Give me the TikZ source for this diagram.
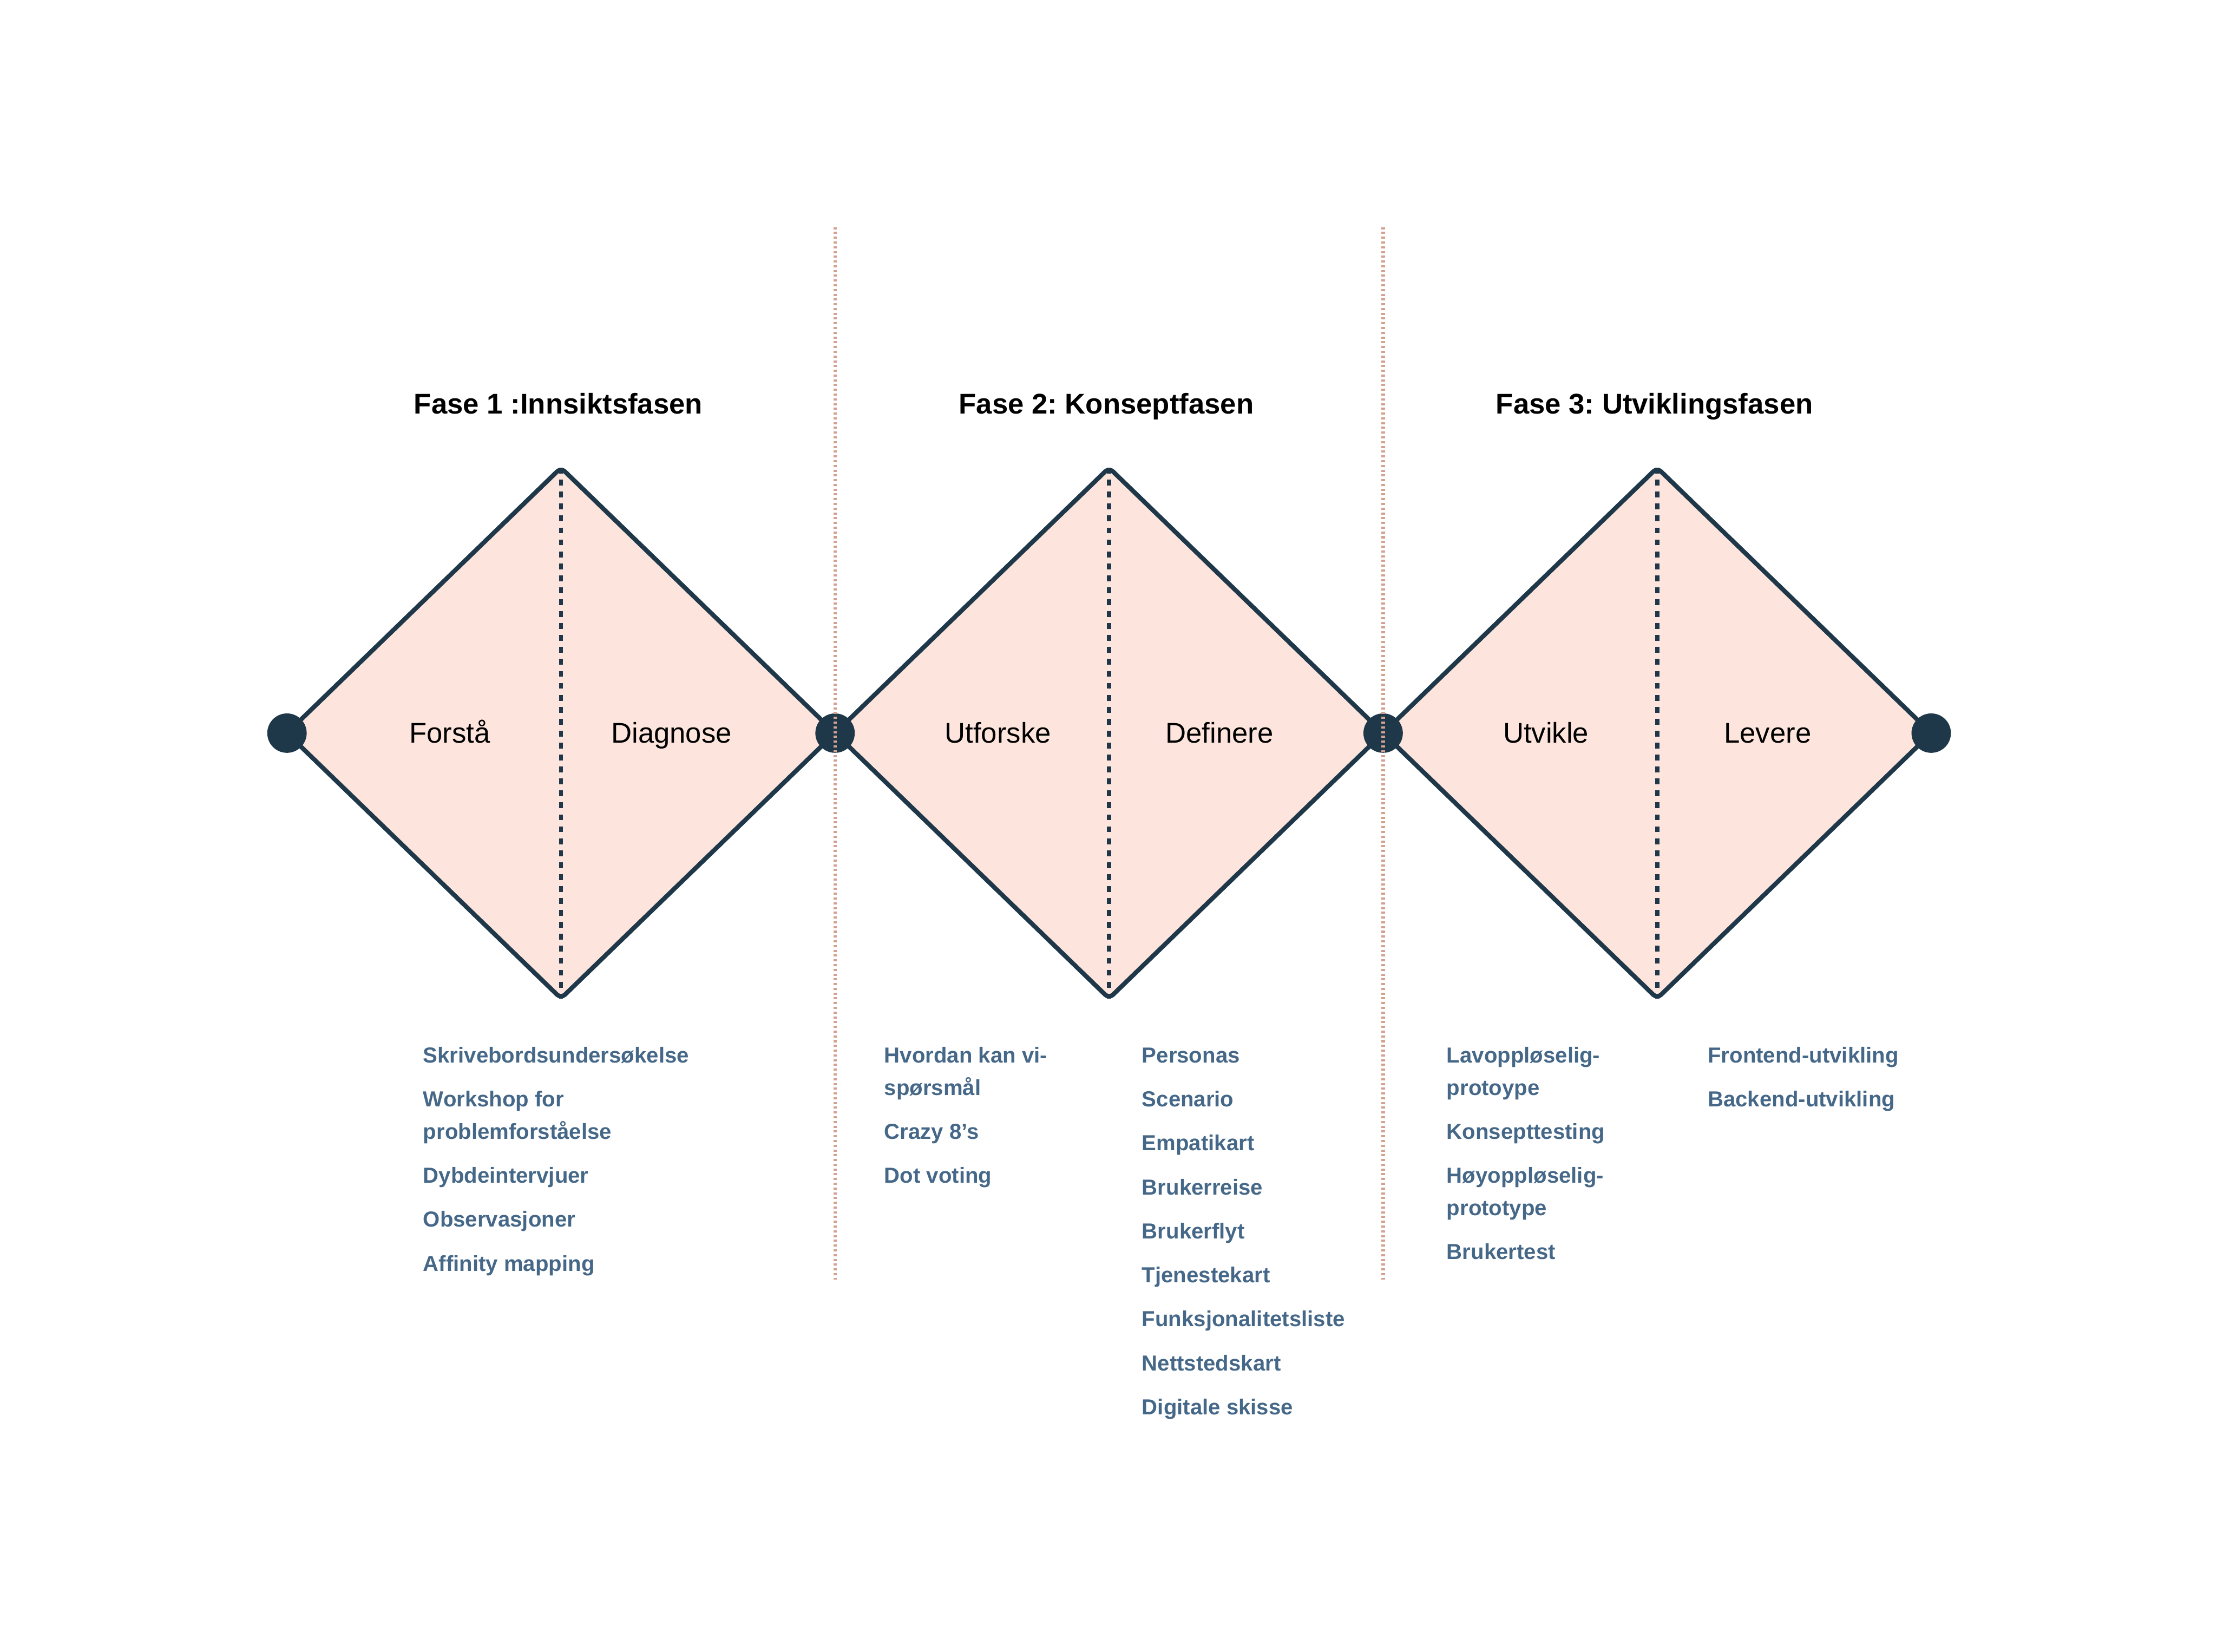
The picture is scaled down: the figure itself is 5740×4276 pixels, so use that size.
\documentclass[tikz,border=0pt]{standalone}
\usepackage{fontspec}
\setmainfont{Liberation Sans}
\definecolor{ddnavy}{HTML}{1E3749}
\definecolor{ddpeach}{HTML}{FDE5DD}
\definecolor{ddsalmon}{HTML}{D4A090}
\definecolor{ddsteel}{HTML}{466888}
\usepackage{tikz}
\usetikzlibrary{positioning}
\frenchspacing
\newcommand{\nextitem}{\\[8.5pt]}
\newcommand{\methodlist}[1]{\begin{tabular}[t]{@{}l@{}}#1\end{tabular}}

\begin{document}
\begin{tikzpicture}[x=0.01cm, y=-0.01cm,
  diamondedge/.style={draw=ddnavy, fill=ddpeach, line width=3.3pt, line join=round, rounded corners=4pt},
  midline/.style={ddnavy, line width=3.1pt, dash pattern=on 4.3pt off 4.5pt},
  phaseline/.style={ddsalmon, line width=2.5pt, dash pattern=on 1.6pt off 1.9pt},
  junction/.style={circle, fill=ddnavy, minimum size=1.02cm, inner sep=0pt},
  phasetitle/.style={font=\bfseries\fontsize{21}{25}\selectfont, anchor=base, inner sep=0pt},
  halflabel/.style={font=\fontsize{21}{25}\selectfont, anchor=base, inner sep=0pt},
  method/.style={font=\bfseries\fontsize{16}{23.9}\selectfont, text=ddsteel, anchor=base west, inner sep=0pt}]
  \useasboundingbox (0,0) rectangle (5740,4276);
  \pgfmathsetmacro{\hw}{709.5}
  \pgfmathsetmacro{\hh}{687}
  \pgfmathsetmacro{\my}{1898}
  % Junctions
  \foreach \dx [count=\k from 0] in {743, 2162, 3581, 5000}
    \coordinate (j\k) at (\dx, \my);
  % Diamonds: title, left half, right half
  \foreach \cx/\title/\lleft/\lright [count=\i] in {
    1452.5/{Fase 1 :Innsiktsfasen}/Forstå/Diagnose,
    2871.5/{Fase 2: Konseptfasen}/Utforske/Definere,
    4290.5/{Fase 3: Utviklingsfasen}/Utvikle/Levere
  }{
    \pgfmathtruncatemacro{\k}{\i-1}
    \coordinate (top\i) at (\cx, \my-\hh);
    \coordinate (bot\i) at (\cx, \my+\hh);
    % Shape
    \filldraw[diamondedge] (j\k) -- (top\i) -- (j\i) -- (bot\i) -- cycle;
    \draw[midline] (top\i) -- (bot\i);
    % Labels
    \node[halflabel] (left\i) at (\cx-288, 1923) {\lleft};
    \node[halflabel] (right\i) at (\cx+286, 1923) {\lright};
    \node[phasetitle] (title\i) at (\cx-7, 1072) {\title};
  }
  % Dots
  \foreach \k in {0,...,3}
    \node[junction] (dot\k) at (j\k) {};
  % Phase borders
  \foreach \k in {1,2}{
    \path (j\k) ++(0,-1310) coordinate (ptop\k);
    \path (j\k) ++(0,1415) coordinate (pbot\k);
    \draw[phaseline] (ptop\k) -- (pbot\k);
  }
  % Methods
  \node[method] (methods1) at (1095, 2751) {\methodlist{Skrivebordsundersøkelse\nextitem Workshop for\\problemforståelse\nextitem Dybdeintervjuer\nextitem Observasjoner\nextitem Affinity mapping}};
  \node[method] (methods2) at (2289, 2751) {\methodlist{Hvordan kan vi-\\spørsmål\nextitem Crazy 8’s\nextitem Dot voting}};
  \node[method] (methods3) at (2956, 2751) {\methodlist{Personas\nextitem Scenario\nextitem Empatikart\nextitem Brukerreise\nextitem Brukerflyt\nextitem Tjenestekart\nextitem Funksjonalitetsliste\nextitem Nettstedskart\nextitem Digitale skisse}};
  \node[method] (methods4) at (3745, 2751) {\methodlist{Lavoppløselig-\\protoype\nextitem Konsepttesting\nextitem Høyoppløselig-\\prototype\nextitem Brukertest}};
  \node[method] (methods5) at (4421, 2751) {\methodlist{Frontend-utvikling\nextitem Backend-utvikling}};
\end{tikzpicture}
\end{document}
